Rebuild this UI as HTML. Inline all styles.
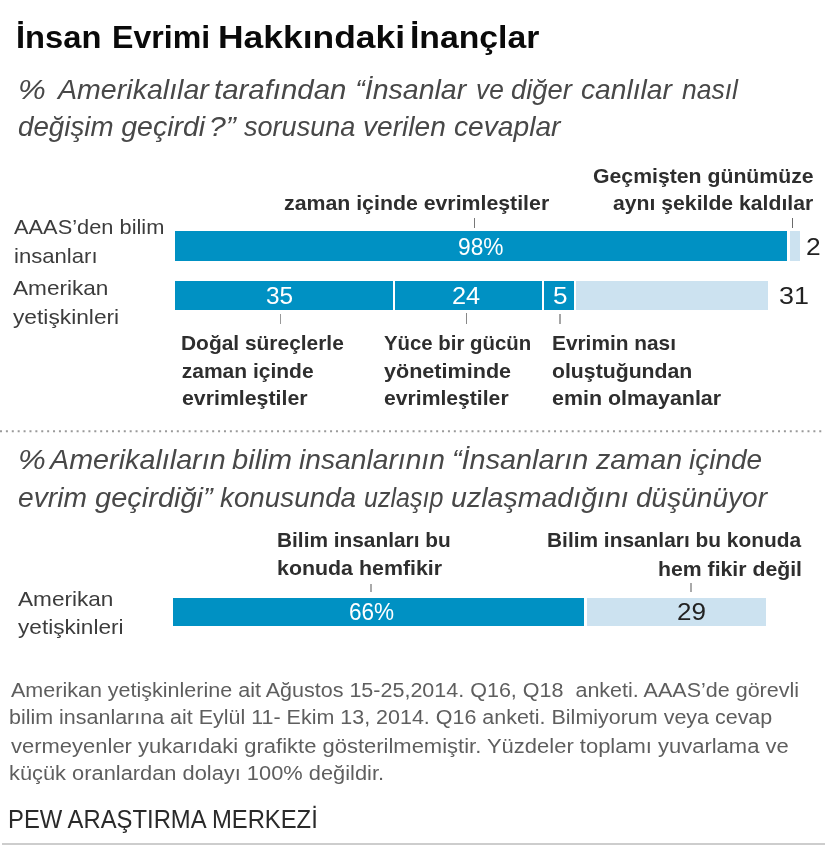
<!DOCTYPE html>
<html><head><meta charset="utf-8"><title>İnsan Evrimi Hakkındaki İnançlar</title>
<style>
html,body{margin:0;padding:0;background:#fff;}
body{width:825px;height:854px;position:relative;overflow:hidden;font-family:"Liberation Sans",sans-serif;}
#c{position:absolute;left:0;top:0;width:825px;height:854px;filter:blur(0.5px);}
.t{position:absolute;white-space:pre;transform-origin:0 0;}
.r{position:absolute;}
</style></head><body><div id="c">
<div class="r" style="left:175px;top:231.4px;width:612.00px;height:30.00px;background:#0091c3"></div>
<div class="r" style="left:789.5px;top:231.4px;width:10.00px;height:30.00px;background:#cce2f0"></div>
<div class="r" style="left:175px;top:281px;width:217.50px;height:29.40px;background:#0091c3"></div>
<div class="r" style="left:395px;top:281px;width:147.20px;height:29.40px;background:#0091c3"></div>
<div class="r" style="left:544.3px;top:281px;width:29.30px;height:29.40px;background:#0091c3"></div>
<div class="r" style="left:575.8px;top:281px;width:192.20px;height:29.40px;background:#cce2f0"></div>
<div class="r" style="left:173px;top:597.6px;width:411.30px;height:28.80px;background:#0091c3"></div>
<div class="r" style="left:587.3px;top:597.6px;width:178.50px;height:28.80px;background:#cce2f0"></div>
<div class="r" style="left:473.65px;top:217.6px;width:1.5px;height:10.20px;background:#777"></div>
<div class="r" style="left:791.85px;top:218px;width:1.5px;height:9.80px;background:#6a6a6a"></div>
<div class="r" style="left:279.55px;top:313.5px;width:1.5px;height:10.00px;background:#999"></div>
<div class="r" style="left:465.75px;top:313px;width:1.5px;height:10.50px;background:#888"></div>
<div class="r" style="left:559.05px;top:314px;width:1.5px;height:9.50px;background:#a5a5a5"></div>
<div class="r" style="left:370.25px;top:583.5px;width:1.5px;height:8.70px;background:#aaa"></div>
<div class="r" style="left:690.25px;top:583.3px;width:1.5px;height:8.70px;background:#aaa"></div>
<svg style="position:absolute;left:0;top:429.8px" width="825" height="3"><line x1="0" y1="1.2" x2="825" y2="1.2" stroke="#9a9a9a" stroke-width="2" stroke-dasharray="2 3.894"/></svg>
<div class="r" style="left:1.5px;top:843px;width:823.5px;height:2px;background:#cdcdcd"></div>
<div class="t" style="left:593.15px;top:164.65px;font-size:21px;line-height:21px;font-weight:bold;color:#2e2e2e;transform:scaleX(1.0110);">Geçmişten günümüze</div>
<div class="t" style="left:284.15px;top:191.95px;font-size:21px;line-height:21px;font-weight:bold;color:#2e2e2e;transform:scaleX(1.0142);">zaman içinde evrimleştiler</div>
<div class="t" style="left:613.06px;top:191.95px;font-size:21px;line-height:21px;font-weight:bold;color:#2e2e2e;transform:scaleX(1.0091);">aynı şekilde kaldılar</div>
<div class="t" style="left:14.00px;top:215.55px;font-size:21px;line-height:21px;color:#3c3c3c;transform:scaleX(1.0388);">AAAS’den bilim</div>
<div class="t" style="left:13.56px;top:244.85px;font-size:21px;line-height:21px;color:#3c3c3c;transform:scaleX(1.0524);">insanları</div>
<div class="t" style="left:13.00px;top:276.55px;font-size:21px;line-height:21px;color:#3c3c3c;transform:scaleX(1.0760);">Amerikan</div>
<div class="t" style="left:13.39px;top:305.95px;font-size:21px;line-height:21px;color:#3c3c3c;transform:scaleX(1.0830);">yetişkinleri</div>
<div class="t" style="left:181.24px;top:331.65px;font-size:21px;line-height:21px;font-weight:bold;color:#2e2e2e;transform:scaleX(0.9964);">Doğal süreçlerle</div>
<div class="t" style="left:181.76px;top:359.65px;font-size:21px;line-height:21px;font-weight:bold;color:#2e2e2e;">zaman içinde</div>
<div class="t" style="left:181.75px;top:387.15px;font-size:21px;line-height:21px;font-weight:bold;color:#2e2e2e;transform:scaleX(1.0144);">evrimleştiler</div>
<div class="t" style="left:384.09px;top:331.65px;font-size:21px;line-height:21px;font-weight:bold;color:#2e2e2e;transform:scaleX(0.9704);">Yüce bir gücün</div>
<div class="t" style="left:384.28px;top:359.65px;font-size:21px;line-height:21px;font-weight:bold;color:#2e2e2e;transform:scaleX(1.0273);">yönetiminde</div>
<div class="t" style="left:383.65px;top:387.15px;font-size:21px;line-height:21px;font-weight:bold;color:#2e2e2e;transform:scaleX(1.0070);">evrimleştiler</div>
<div class="t" style="left:551.95px;top:331.65px;font-size:21px;line-height:21px;font-weight:bold;color:#2e2e2e;transform:scaleX(0.9925);">Evrimin nası</div>
<div class="t" style="left:552.45px;top:359.65px;font-size:21px;line-height:21px;font-weight:bold;color:#2e2e2e;transform:scaleX(1.0109);">oluştuğundan</div>
<div class="t" style="left:552.44px;top:387.15px;font-size:21px;line-height:21px;font-weight:bold;color:#2e2e2e;transform:scaleX(1.0204);">emin olmayanlar</div>
<div class="t" style="left:276.65px;top:529.15px;font-size:21px;line-height:21px;font-weight:bold;color:#2e2e2e;transform:scaleX(0.9924);">Bilim insanları bu</div>
<div class="t" style="left:276.50px;top:557.45px;font-size:21px;line-height:21px;font-weight:bold;color:#2e2e2e;transform:scaleX(1.0178);">konuda hemfikir</div>
<div class="t" style="left:547.04px;top:529.15px;font-size:21px;line-height:21px;font-weight:bold;color:#2e2e2e;transform:scaleX(0.9941);">Bilim insanları bu konuda</div>
<div class="t" style="left:657.51px;top:557.65px;font-size:21px;line-height:21px;font-weight:bold;color:#2e2e2e;transform:scaleX(1.0112);">hem fikir değil</div>
<div class="t" style="left:18.00px;top:588.35px;font-size:21px;line-height:21px;color:#3c3c3c;transform:scaleX(1.0760);">Amerikan</div>
<div class="t" style="left:18.39px;top:615.95px;font-size:21px;line-height:21px;color:#3c3c3c;transform:scaleX(1.0767);">yetişkinleri</div>
<div class="t" style="left:10.70px;top:680.72px;font-size:19.5px;line-height:19.5px;color:#5e5e5e;transform:scaleX(1.1032);">Amerikan yetişkinlerine ait Ağustos 15-25,2014. Q16, Q18  anketi. AAAS’de görevli</div>
<div class="t" style="left:9.30px;top:708.42px;font-size:19.5px;line-height:19.5px;color:#5e5e5e;transform:scaleX(1.1009);">bilim insanlarına ait Eylül 11- Ekim 13, 2014. Q16 anketi. Bilmiyorum veya cevap</div>
<div class="t" style="left:10.59px;top:736.72px;font-size:19.5px;line-height:19.5px;color:#5e5e5e;transform:scaleX(1.1271);">vermeyenler yukarıdaki grafikte gösterilmemiştir. Yüzdeler toplamı yuvarlama ve</div>
<div class="t" style="left:9.28px;top:764.42px;font-size:19.5px;line-height:19.5px;color:#5e5e5e;transform:scaleX(1.1196);">küçük oranlardan dolayı 100% değildir.</div>
<div class="t" style="left:7.59px;top:805.60px;font-size:26px;line-height:26px;color:#2a2a2a;transform:scaleX(0.9164);">PEW ARAŞTIRMA MERKEZİ</div>
<div class="t" style="left:458.38px;top:234.98px;font-size:24.5px;line-height:24.5px;color:#fff;transform:scaleX(0.9269);">98%</div>
<div class="t" style="left:805.68px;top:235.18px;font-size:24.5px;line-height:24.5px;color:#222;transform:scaleX(1.0765);">2</div>
<div class="t" style="left:266.13px;top:284.18px;font-size:24.5px;line-height:24.5px;color:#fff;transform:scaleX(0.9947);">35</div>
<div class="t" style="left:452.23px;top:284.18px;font-size:24.5px;line-height:24.5px;color:#fff;transform:scaleX(1.0343);">24</div>
<div class="t" style="left:552.56px;top:284.28px;font-size:24.5px;line-height:24.5px;color:#fff;transform:scaleX(1.0655);">5</div>
<div class="t" style="left:778.92px;top:284.18px;font-size:24.5px;line-height:24.5px;color:#222;transform:scaleX(1.0991);">31</div>
<div class="t" style="left:348.67px;top:600.17px;font-size:24.5px;line-height:24.5px;color:#fff;transform:scaleX(0.9208);">66%</div>
<div class="t" style="left:676.50px;top:600.17px;font-size:24.5px;line-height:24.5px;color:#222;transform:scaleX(1.0616);">29</div>
<div class="t" style="left:16.08px;top:20.80px;font-size:32px;line-height:32px;font-weight:bold;color:#0a0a0a;transform:scaleX(1.0211);">İnsan</div>
<div class="t" style="left:111.91px;top:20.80px;font-size:32px;line-height:32px;font-weight:bold;color:#0a0a0a;transform:scaleX(1.0032);">Evrimi</div>
<div class="t" style="left:217.70px;top:20.80px;font-size:32px;line-height:32px;font-weight:bold;color:#0a0a0a;transform:scaleX(1.1068);">Hakkındaki</div>
<div class="t" style="left:409.91px;top:20.80px;font-size:32px;line-height:32px;font-weight:bold;color:#0a0a0a;transform:scaleX(1.0536);">İnançlar</div>
<div class="t" style="left:17.71px;top:75.28px;font-size:28.5px;line-height:28.5px;font-style:italic;color:#484848;transform:scaleX(1.0956);">%</div>
<div class="t" style="left:57.63px;top:75.28px;font-size:28.5px;line-height:28.5px;font-style:italic;color:#484848;transform:scaleX(1.0029);">Amerikalılar</div>
<div class="t" style="left:214.18px;top:75.28px;font-size:28.5px;line-height:28.5px;font-style:italic;color:#484848;transform:scaleX(1.0319);">tarafından</div>
<div class="t" style="left:355.30px;top:75.28px;font-size:28.5px;line-height:28.5px;font-style:italic;color:#484848;">“İnsanlar</div>
<div class="t" style="left:475.55px;top:75.28px;font-size:28.5px;line-height:28.5px;font-style:italic;color:#484848;transform:scaleX(0.9236);">ve</div>
<div class="t" style="left:511.14px;top:75.28px;font-size:28.5px;line-height:28.5px;font-style:italic;color:#484848;transform:scaleX(0.9610);">diğer</div>
<div class="t" style="left:580.55px;top:75.28px;font-size:28.5px;line-height:28.5px;font-style:italic;color:#484848;transform:scaleX(0.9890);">canlılar</div>
<div class="t" style="left:681.60px;top:75.28px;font-size:28.5px;line-height:28.5px;font-style:italic;color:#484848;transform:scaleX(0.9302);">nasıl</div>
<div class="t" style="left:18.43px;top:112.28px;font-size:28.5px;line-height:28.5px;font-style:italic;color:#484848;transform:scaleX(0.9729);">değişim</div>
<div class="t" style="left:121.20px;top:112.28px;font-size:28.5px;line-height:28.5px;font-style:italic;color:#484848;">geçirdi</div>
<div class="t" style="left:209.39px;top:112.28px;font-size:28.5px;line-height:28.5px;font-style:italic;color:#484848;transform:scaleX(1.0589);">?”</div>
<div class="t" style="left:244.36px;top:112.28px;font-size:28.5px;line-height:28.5px;font-style:italic;color:#484848;transform:scaleX(0.9497);">sorusuna</div>
<div class="t" style="left:363.25px;top:112.28px;font-size:28.5px;line-height:28.5px;font-style:italic;color:#484848;transform:scaleX(0.9866);">verilen</div>
<div class="t" style="left:453.65px;top:112.28px;font-size:28.5px;line-height:28.5px;font-style:italic;color:#484848;transform:scaleX(0.9886);">cevaplar</div>
<div class="t" style="left:17.71px;top:444.77px;font-size:28.5px;line-height:28.5px;font-style:italic;color:#484848;transform:scaleX(1.0956);">%</div>
<div class="t" style="left:49.94px;top:444.77px;font-size:28.5px;line-height:28.5px;font-style:italic;color:#484848;transform:scaleX(1.0082);">Amerikalıların</div>
<div class="t" style="left:232.26px;top:444.77px;font-size:28.5px;line-height:28.5px;font-style:italic;color:#484848;transform:scaleX(1.0236);">bilim</div>
<div class="t" style="left:298.98px;top:444.77px;font-size:28.5px;line-height:28.5px;font-style:italic;color:#484848;transform:scaleX(0.9901);">insanlarının</div>
<div class="t" style="left:451.78px;top:444.77px;font-size:28.5px;line-height:28.5px;font-style:italic;color:#484848;transform:scaleX(1.0115);">“İnsanların</div>
<div class="t" style="left:596.14px;top:444.77px;font-size:28.5px;line-height:28.5px;font-style:italic;color:#484848;transform:scaleX(1.0064);">zaman</div>
<div class="t" style="left:688.98px;top:444.77px;font-size:28.5px;line-height:28.5px;font-style:italic;color:#484848;transform:scaleX(0.9800);">içinde</div>
<div class="t" style="left:18.41px;top:482.77px;font-size:28.5px;line-height:28.5px;font-style:italic;color:#484848;transform:scaleX(0.9902);">evrim</div>
<div class="t" style="left:94.50px;top:482.77px;font-size:28.5px;line-height:28.5px;font-style:italic;color:#484848;transform:scaleX(1.0179);">geçirdiği”</div>
<div class="t" style="left:220.18px;top:482.77px;font-size:28.5px;line-height:28.5px;font-style:italic;color:#484848;transform:scaleX(0.9758);">konusunda</div>
<div class="t" style="left:363.80px;top:482.77px;font-size:28.5px;line-height:28.5px;font-style:italic;color:#484848;transform:scaleX(0.8797);">uzlaşıp</div>
<div class="t" style="left:450.96px;top:482.77px;font-size:28.5px;line-height:28.5px;font-style:italic;color:#484848;transform:scaleX(1.0021);">uzlaşmadığını</div>
<div class="t" style="left:636.32px;top:482.77px;font-size:28.5px;line-height:28.5px;font-style:italic;color:#484848;transform:scaleX(0.9846);">düşünüyor</div>
</div></body></html>
